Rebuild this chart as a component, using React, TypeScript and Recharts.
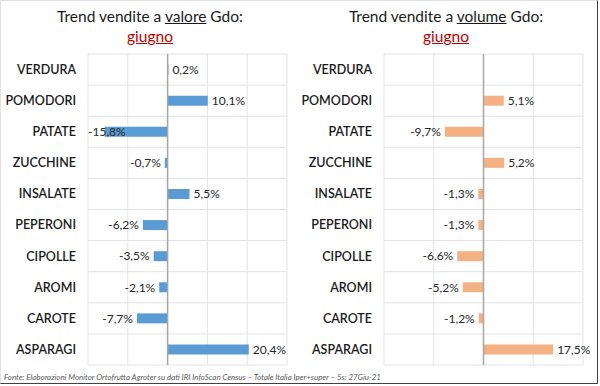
import { BarChart, Bar, XAxis, YAxis, CartesianGrid, ReferenceLine, LabelList } from "recharts";

const categories = ["VERDURA", "POMODORI", "PATATE", "ZUCCHINE", "INSALATE", "PEPERONI", "CIPOLLE", "AROMI", "CAROTE", "ASPARAGI"];
const valoreValues = [0.2, 10.1, -15.8, -0.7, 5.5, -6.2, -3.5, -2.1, -7.7, 20.4];
const volumeValues = [0.0, 5.1, -9.7, 5.2, -1.3, -1.3, -6.6, -5.2, -1.2, 17.5];
const valoreTicks = [-20, -10, 0, 10, 20, 30];
const volumeTicks = [-25, -12.5, 0, 12.5, 25];

const FONT = "Lato, 'Open Sans', sans-serif";

const valoreData = categories.map((c, i) => ({ name: c, value: valoreValues[i] }));
const volumeData = categories.map((c, i) => ({ name: c, value: volumeValues[i] }));

const fmt = (v: number) => v.toFixed(1).replace(".", ",") + "%";

// label outside the bar end; if it would spill past the plot's left edge, pull it inside (as Excel does)
function makeLabel(domainMin: number) {
    return function ValueLabel(props: any) {
        const { x, y, width, height, value } = props;
        const left = Math.min(x, x + width);
        const right = Math.max(x, x + width);
        const neg = value < 0;
        let tx = neg ? left - 4 : right + 4;
        let anchor = neg ? "end" : "start";
        if (neg && value !== 0) {
            const pxPerUnit = Math.abs(width) / Math.abs(value);
            const plotLeft = right + domainMin * pxPerUnit;
            if (tx - 36 < plotLeft) {
                tx = plotLeft;
                anchor = "start";
            }
        }
        return (
            <text
                x={tx}
                y={y + height / 2}
                dy="0.36em"
                textAnchor={anchor}
                fontSize={12}
                fontFamily={FONT}
                fill="#262626"
            >
                {fmt(value)}
            </text>
        );
    };
}

function rowLines({ offset }: any) {
    const out: number[] = [];
    for (let i = 0; i <= categories.length; i++) out.push(offset.top + (i * offset.height) / categories.length);
    return out;
}

function Panel({ data, ticks, color, axisWidth, right }: any) {
    const Label = makeLabel(ticks[0]);
    return (
        <BarChart
            width={300}
            height={386}
            data={data}
            layout="vertical"
            margin={{ top: 54, right, bottom: 21, left: 0 }}
            barCategoryGap="34%"
        >
            <CartesianGrid stroke="#e3e3e3" horizontalCoordinatesGenerator={rowLines} />
            <XAxis type="number" domain={[ticks[0], ticks[ticks.length - 1]]} ticks={ticks} hide />
            <YAxis
                type="category"
                dataKey="name"
                width={axisWidth}
                axisLine={false}
                tickLine={false}
                tickMargin={6}
                tick={{ fontSize: 12.5, fill: "#1a1a1a", fontFamily: FONT, fontWeight: 600 }}
            />
            <ReferenceLine x={0} stroke="#a6a6a6" strokeWidth={1.5} />
            <Bar dataKey="value" fill={color} isAnimationActive={false}>
                <LabelList dataKey="value" content={<Label />} />
            </Bar>
        </BarChart>
    );
}

function Title({ word, left }: { word: string; left: number }) {
    return (
        <div style={{ position: "absolute", left, top: 5, width: 300, textAlign: "center", fontFamily: FONT, color: "#1a1a1a" }}>
            <div style={{ fontSize: 15.5, lineHeight: "22px" }}>
                Trend vendite a <span style={{ textDecoration: "underline" }}>{word}</span> Gdo:
            </div>
            <div style={{ fontSize: 15.5, lineHeight: "19px", color: "#c00000", textDecoration: "underline" }}>
                giugno
            </div>
        </div>
    );
}

export default function App() {
    return (
        <div style={{ position: "absolute", left: 0, top: 0, width: 600, height: 386, background: "#fff", overflow: "hidden" }}>
            <div
                style={{
                    position: "absolute",
                    left: 0,
                    top: 0,
                    width: 596,
                    height: 382,
                    borderTop: "1px solid #e0e0e0",
                    borderLeft: "1px solid #e0e0e0",
                    borderRight: "1px solid #404040",
                    borderBottom: "1px solid #404040",
                }}
            />
            <div style={{ position: "absolute", left: 0, top: 0 }}>
                <Panel data={valoreData} ticks={valoreTicks} color="#5b9bd5" axisWidth={88} right={13} />
            </div>
            <div style={{ position: "absolute", left: 300, top: 0 }}>
                <Panel data={volumeData} ticks={volumeTicks} color="#f4b183" axisWidth={84} right={17} />
            </div>
            <Title word="valore" left={0} />
            <Title word="volume" left={296} />
            <div
                style={{
                    position: "absolute",
                    left: 4,
                    top: 372,
                    fontSize: 7.9,
                    fontStyle: "italic",
                    color: "#595959",
                    fontFamily: FONT,
                    whiteSpace: "nowrap",
                }}
            >
                Fonte: Elaborazioni Monitor Ortofrutta Agroter su dati IRI InfoScan Census – Totale Italia Iper+super – 5s: 27Giu-21
            </div>
        </div>
    );
}
